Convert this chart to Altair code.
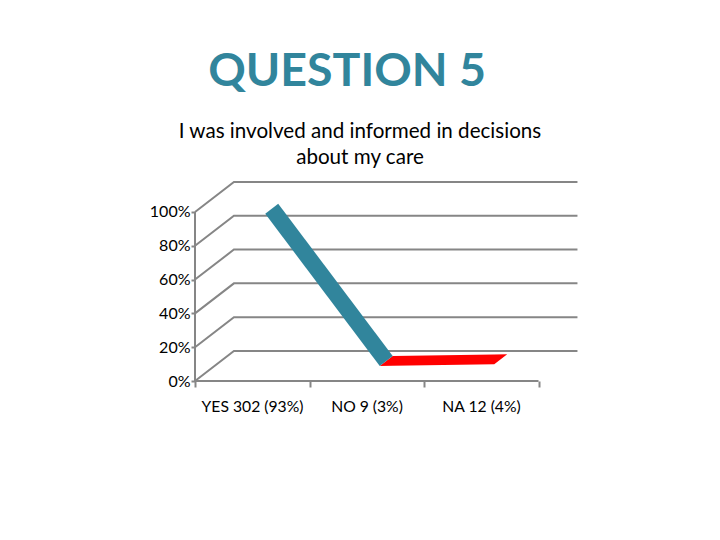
import altair as alt
import pandas as pd

categories = ["YES 302 (93%)", "NO 9 (3%)", "NA 12 (4%)"]
values = [93, 3, 4]
ytick_values = [0, 20, 40, 60, 80, 100]
title_text = "QUESTION 5"
subtitle_lines = ["I was involved and informed in decisions", "about my care"]

GREY = "#868686"
TEAL = "#31859C"
RED = "#FF0000"
FONT = "Lato"

# oblique projection of the 3-D chart: depth 1 moves right and up in data units
KX = 0.34
KY = 17.75
N = len(categories)
x_dom = [0, N + KX - 0.004]
y_dom = [0, 118.3]


def proj(cat, pct, depth):
    return cat + depth * KX, pct + depth * KY


# walls
wall_rows = []
for p in ytick_values:
    for i, (c, d) in enumerate([(0, 0), (0, 1), (N, 1)]):
        x, y = proj(c, p, d)
        wall_rows.append({"g": p, "i": i, "x": x, "y": y})
walls = pd.DataFrame(wall_rows)


def ribbon_slices(a, b):
    """Slices of the flat ribbon between two categories, for an area mark."""
    ax0, ay0 = proj(a[0], a[1], 1 / 3)
    ax1, ay1 = proj(a[0], a[1], 2 / 3)
    bx0, by0 = proj(b[0], b[1], 1 / 3)
    bx1, by1 = proj(b[0], b[1], 2 / 3)

    def interp(x, p, q):
        if q[0] == p[0]:
            return p[1]
        return p[1] + (x - p[0]) * (q[1] - p[1]) / (q[0] - p[0])

    edges = [((ax0, ay0), (ax1, ay1)), ((ax1, ay1), (bx1, by1)),
             ((bx1, by1), (bx0, by0)), ((bx0, by0), (ax0, ay0))]
    rows = []
    for x in sorted({ax0, ax1, bx0, bx1}):
        ys = []
        for p, q in edges:
            lo, hi = min(p[0], q[0]), max(p[0], q[0])
            if lo - 1e-9 <= x <= hi + 1e-9:
                ys.append(interp(x, p, q))
        rows.append({"x": x, "y": min(ys), "y2": max(ys)})
    return pd.DataFrame(rows)


points = [(i + 0.5, v) for i, v in enumerate(values)]
seg1 = ribbon_slices(points[0], points[1])
seg2 = ribbon_slices(points[1], points[2])

x_scale = alt.Scale(domain=x_dom, nice=False, zero=False)
y_scale = alt.Scale(domain=y_dom, nice=False, zero=False)

names_expr = "[" + ",".join(f"'{c}'" for c in categories) + ",''][datum.value]"

x_axis = alt.Axis(
    values=list(range(N + 1)), labelExpr=names_expr, labelOffset=57, title=None,
    grid=False, domain=False, tickColor=GREY, tickWidth=2, tickSize=6,
    labelFont=FONT, labelFontSize=15.7, labelColor="#000000", labelPadding=12,
    labelAngle=0, labelFlush=False, labelOverlap=False, labelBound=False,
)
y_axis = alt.Axis(
    values=ytick_values, labelExpr="datum.value + '%'", title=None, grid=False,
    domain=False, tickColor=GREY, tickWidth=2, tickSize=4,
    labelFont=FONT, labelFontSize=16, labelColor="#000000", labelPadding=1,
)

X = alt.X("x:Q", scale=x_scale, axis=x_axis)
Y = alt.Y("y:Q", scale=y_scale, axis=y_axis)

wall_layer = alt.Chart(walls).mark_line(color=GREY, strokeWidth=2, clip=False).encode(
    x=X, y=Y, detail="g:N", order="i:Q",
)

front_x = alt.Chart(pd.DataFrame({"x": [0, N], "y": [0, 0]})).mark_line(
    color=GREY, strokeWidth=2
).encode(x=X, y=Y)
front_y = alt.Chart(pd.DataFrame({"x": [0, 0], "y": [0, 100]})).mark_line(
    color=GREY, strokeWidth=2
).encode(x=X, y=Y)


def area(df, color):
    return alt.Chart(df).mark_area(color=color, opacity=1, interpolate="linear").encode(
        x=X, y=Y, y2="y2:Q",
    )


def caption(text, size, color, px, py, weight="normal"):
    return alt.Chart(pd.DataFrame({"t": [text]})).mark_text(
        font=FONT, fontSize=size, color=color, align="center", baseline="middle",
        fontWeight=weight,
    ).encode(text="t:N", x=alt.value(px), y=alt.value(py))


chart = alt.layer(
    wall_layer,
    front_x,
    front_y,
    area(seg2, RED),
    area(seg1, TEAL),
    caption(title_text, 46.5, "#31859C", 152, -109, "bold"),
    caption(subtitle_lines[0], 20.6, "#000000", 165, -49),
    caption(subtitle_lines[1], 20.6, "#000000", 165, -23),
).properties(
    width=382,
    height=200,
    padding={"left": 187, "top": 173, "right": 100, "bottom": 130},
    autosize=alt.AutoSizeParams(type="none"),
    background="#FFFFFF",
).configure_view(stroke=None)

chart.save("out.html", embed_options={"renderer": "svg", "actions": False})
